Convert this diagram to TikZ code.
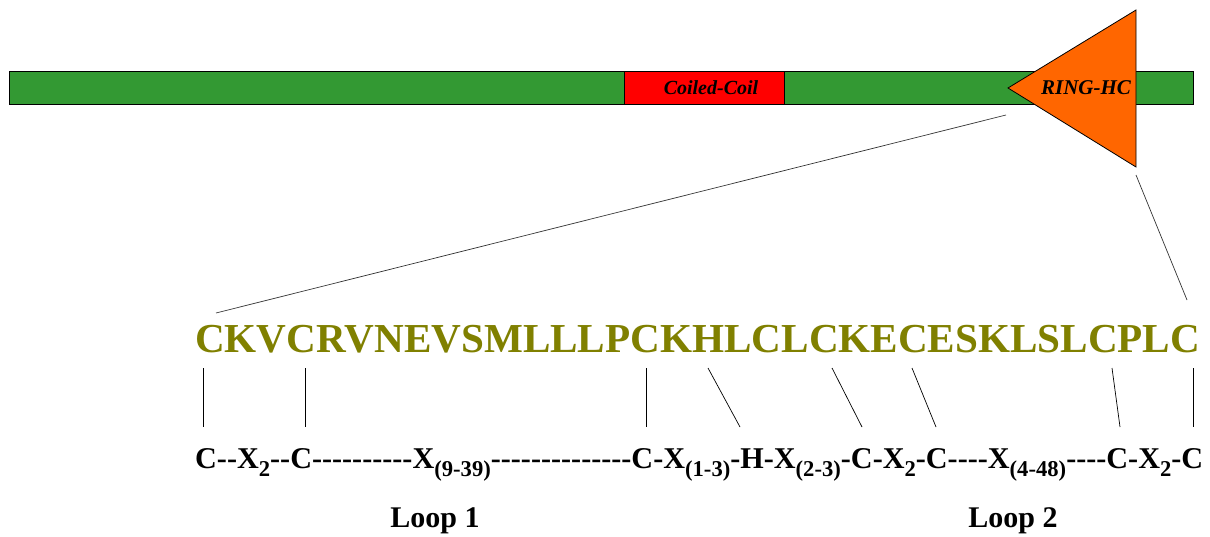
\documentclass[tikz,border=0pt]{standalone}
\usepackage{fontspec}
\usepackage{graphicx}
\setmainfont{Liberation Serif}[Ligatures=TeXOff]
\definecolor{bargreen}{HTML}{339933}
\definecolor{ccred}{HTML}{FF0000}
\definecolor{ringorange}{HTML}{FF6600}
\definecolor{seqolive}{HTML}{808000}
\newcommand{\dn}[1]{\raisebox{-0.28em}{\scalebox{0.75}{#1}}}
\tikzset{
  domainbox/.style={draw=black, line width=0.8pt},
  tickline/.style={draw=black, line width=0.7pt},
  zoomline/.style={draw=black!80, line width=0.7pt},
  lbl/.style={font=\bfseries\itshape\fontsize{20}{22}\selectfont, inner sep=0pt},
  looplbl/.style={inner sep=0pt, anchor=base, font=\bfseries\fontsize{30}{32}\selectfont},
}
\begin{document}
\begin{tikzpicture}[x=1pt, y=-1pt]
\useasboundingbox (0,0) rectangle (1210,537);

% protein backbone and coiled-coil domain
\node[domainbox, fill=bargreen, minimum width=1184pt, minimum height=33pt, anchor=north west, inner sep=0pt] (bar) at (9,71) {};
\node[domainbox, fill=ccred, minimum width=160pt, minimum height=33pt, anchor=north west, inner sep=0pt] (cc) at (624,71) {};
\node[lbl] (cclbl) at (711,88) {Coiled-Coil};

% RING-HC domain
\coordinate (tip) at (1008,88);
\coordinate (rtop) at (1136,10);
\coordinate (rbot) at (1136,167);
\draw[domainbox, fill=ringorange] (tip) -- (rtop) -- (rbot) -- cycle;
\node[lbl, font=\bfseries\itshape\fontsize{21}{23}\selectfont] (ringlbl) at (1086,88) {RING-HC};

% expanded sequence
\node[inner sep=0pt, anchor=base west, text=seqolive] (seq) at (195,352)
  {\resizebox{1005pt}{!}{\bfseries CKVCRVNEVSMLLLPCKHLCLCKECESKLSLCPLC}};

\coordinate (zl1) at (1006,115);
\coordinate (zl2) at (216,313);
\coordinate (zr1) at (1136,175);
\coordinate (zr2) at (1187,300);
\draw[zoomline] (zl1) -- (zl2);
\draw[zoomline] (zr1) -- (zr2);

% consensus motif
\node[inner sep=0pt, anchor=base west] (motif) at (195,468)
  {\resizebox{1008pt}{!}{\bfseries C--X\dn{2}--C----------X\dn{(9-39)}--------------C-X\dn{(1-3)}-H-X\dn{(2-3)}-C-X\dn{2}-C----X\dn{(4-48)}----C-X\dn{2}-C}};

% residue-to-motif ticks
\foreach \i/\xa/\xb in {1/203/203, 2/305/305, 3/646/646, 4/708/740, 5/832/862, 6/912/936, 7/1112/1120, 8/1193/1193}{
  \coordinate (ta\i) at (\xa,368);
  \coordinate (tb\i) at (\xb,427);
  \draw[tickline] (ta\i) -- (tb\i);
}

\node[looplbl] (loop1) at (435,527) {Loop 1};
\node[looplbl] (loop2) at (1013,527) {Loop 2};
\end{tikzpicture}
\end{document}
